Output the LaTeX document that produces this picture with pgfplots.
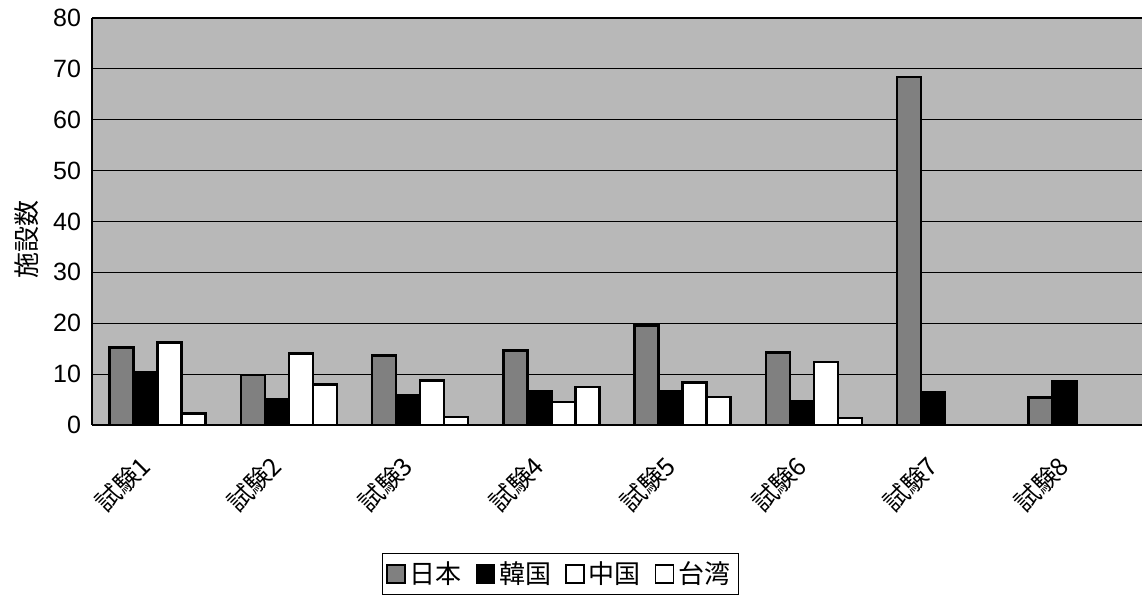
\documentclass[border=0pt]{standalone}
\usepackage{pgfplots}
\pgfplotsset{compat=1.18}
\usepackage{fontspec}
\setmainfont{Liberation Sans}
\newfontfamily\cjk{Noto Sans CJK JP}

\begin{document}
\begin{tikzpicture}
\begin{axis}[
    scale only axis,
    width=525pt, height=203.5pt,
    ybar=0pt, bar width=12pt,
    xmin=-0.5, xmax=7.5,
    ymin=0, ymax=80,
    ytick={0,10,...,80},
    xtick={0,...,7},
    xticklabels={試験1,試験2,試験3,試験4,試験5,試験6,試験7,試験8},
    x tick label style={font=\cjk\fontsize{12.5}{14}\selectfont,
        xshift=-6pt, yshift=-14pt, rotate=45, anchor=east, inner sep=0pt},
    y tick label style={font=\fontsize{12.5}{14}\selectfont, xshift=-2pt},
    /pgf/number format/assume math mode=true,
    tick style={draw=none},
    axis lines*=left,
    axis line style={black, line width=0.8pt},
    axis background/.style={fill=black!28},
    ymajorgrids=true,
    major grid style={black, line width=0.6pt},
    ylabel={\cjk 施設数},
    ylabel style={font=\fontsize{13}{15}\selectfont, anchor=center,
        at={(axis description cs:-0.062,0.455)}},
    legend columns=4,
    legend style={at={(0.446,-0.315)}, anchor=north, draw=black, line width=0.4pt,
        font=\cjk\fontsize{13}{15}\selectfont, inner sep=2pt,
        /tikz/every even column/.append style={column sep=5pt}},
    legend image code/.code={\draw[#1, line width=0.8pt] (0pt,-4.5pt) rectangle (9pt,4.5pt);},
]
\addplot[fill=black!50, draw=black, line width=1.3pt]
    coordinates {(0,15.2)(1,9.8)(2,13.6)(3,14.7)(4,19.6)(5,14.3)(6,68.4)(7,5.4)};
\addlegendentry{日本}
\addplot[fill=black, draw=black, line width=1.3pt]
    coordinates {(0,10.3)(1,5.1)(2,5.9)(3,6.7)(4,6.7)(5,4.7)(6,6.5)(7,8.5)};
\addlegendentry{韓国}
\addplot[fill=white, draw=black, line width=1.3pt]
    coordinates {(0,16.2)(1,14)(2,8.7)(3,4.5)(4,8.4)(5,12.4)};
\addlegendentry{中国}
\addplot[fill=white, draw=black, line width=1.3pt]
    coordinates {(0,2.2)(1,7.9)(2,1.6)(3,7.5)(4,5.5)(5,1.4)};
\addlegendentry{台湾}
\end{axis}
\pgfresetboundingbox
\path ([xshift=-46pt, yshift=-85.5pt]current axis.south west)
    rectangle ([yshift=9pt]current axis.north east);
\end{tikzpicture}
\end{document}
